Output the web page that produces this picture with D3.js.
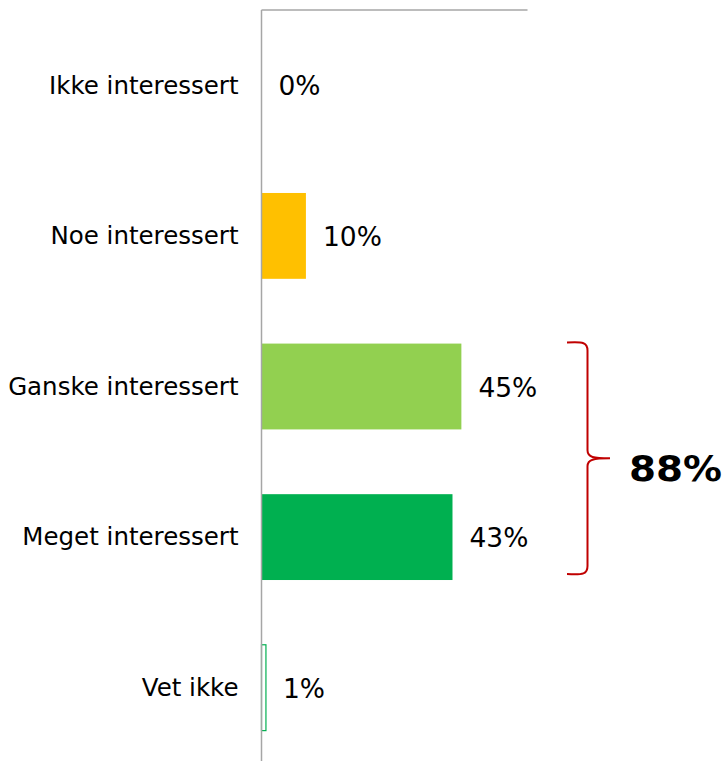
<!DOCTYPE html>
<html><head><meta charset="utf-8">
<script src="https://cdn.jsdelivr.net/npm/d3@7"></script>
<style>body{margin:0;background:#fff}svg{display:block}</style>
</head><body>
<script>
const categories = ["Ikke interessert","Noe interessert","Ganske interessert","Meget interessert","Vet ikke"];
const values = [0, 10, 45, 43, 1];
const colors = ["#FFC000","#FFC000","#92D050","#00B050","#FFFFFF"];
const strokes = ["none","none","none","none","#00B050"];
const valueLabels = ["0%","10%","45%","43%","1%"];
const totalLabel = "88%";

(function(){
const W = 725, H = 761;
const svg = d3.select("body").append("svg").attr("width", W).attr("height", H);

const x = d3.scaleLinear().domain([0, 60]).range([261.5, 528]);
const y = d3.scaleBand().domain(categories).range([10, 763]).paddingInner(0.43).paddingOuter(0.215);

const font = "'DejaVu Sans', Verdana, sans-serif";

svg.selectAll("rect.bar").data(categories).join("rect")
  .attr("class","bar")
  .attr("x", x(0))
  .attr("y", d => y(d))
  .attr("width", (d,i) => Math.max(0, x(values[i]) - x(0)))
  .attr("height", y.bandwidth())
  .attr("fill", (d,i) => values[i] > 0 ? colors[i] : "none")
  .attr("stroke", (d,i) => strokes[i])
  .attr("stroke-width", 1.2);

svg.append("line").attr("x1", x(0)).attr("x2", 527.5).attr("y1", 10).attr("y2", 10)
  .attr("stroke", "#A6A6A6").attr("stroke-width", 1.5);

const axis = d3.axisLeft(y).tickSize(0).tickPadding(23);
const gA = svg.append("g").attr("transform", `translate(${x(0)},0)`).call(axis);
gA.select(".domain").attr("d", `M0,10V${H}`).attr("stroke", "#A6A6A6").attr("stroke-width", 1.5);
gA.selectAll(".tick text").attr("font-family", font).attr("font-size", 24.5).attr("fill", "#000")
  .attr("dy", "0.34em");

svg.selectAll("text.val").data(categories).join("text")
  .attr("class","val")
  .attr("x", (d,i) => x(values[i]) + 17)
  .attr("y", d => y(d) + y.bandwidth()/2)
  .attr("dy", "0.38em")
  .attr("font-family", font).attr("font-size", 26.5).attr("fill", "#000")
  .text((d,i) => valueLabels[i]);

const yTop = y("Ganske interessert") - 1, yBot = y("Meget interessert") + y.bandwidth() - 6;
const mid = (yTop + yBot) / 2;
const xl = 567, xv = 587.5, xt = 610;
const p = `M${xl},${yTop} C${xv-4},${yTop-1} ${xv},${yTop} ${xv},${yTop+8} L${xv},${mid-8} C${xv},${mid-1} ${xv+6},${mid} ${xt},${mid}`
  + ` M${xt},${mid} C${xv+6},${mid} ${xv},${mid+1} ${xv},${mid+8} L${xv},${yBot-8} C${xv},${yBot} ${xv-4},${yBot+1} ${xl},${yBot}`;
svg.append("path").attr("d", p).attr("fill", "none").attr("stroke", "#C00000").attr("stroke-width", 2);

svg.append("text").attr("x", 629).attr("y", mid + 10).attr("dy", "0.36em")
  .attr("font-family", font).attr("font-weight", "bold").attr("font-size", 35)
  .attr("textLength", 93).attr("lengthAdjust", "spacingAndGlyphs")
  .attr("fill", "#000").text(totalLabel);
})();
</script>
</body></html>
